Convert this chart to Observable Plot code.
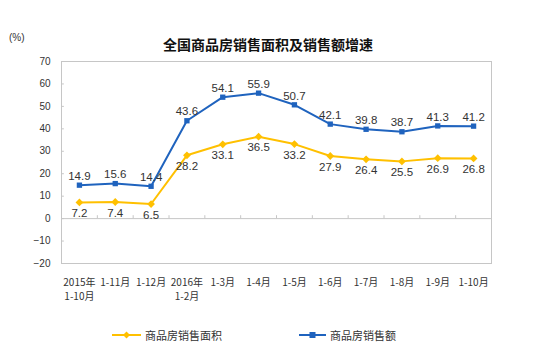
<!DOCTYPE html>
<html>
<head>
<meta charset="utf-8">
<script src="https://cdn.jsdelivr.net/npm/d3@7"></script>
<script src="https://cdn.jsdelivr.net/npm/@observablehq/plot@0.6"></script>
<style>
  html, body { margin: 0; padding: 0; background: #fff; }
  #wrap { position: relative; width: 550px; height: 357px; overflow: hidden;
          font-family: "Liberation Sans", "Noto Sans CJK SC", sans-serif; color: #333; }
  #title { position: absolute; left: 0; width: 536px; top: 35px; text-align: center;
           font-family: "Noto Sans CJK SC", sans-serif; font-size: 14px; font-weight: bold; color: #111; line-height: 18px; }
  #unit { position: absolute; left: 9px; top: 32px; font-size: 10px; color: #333; }
  #chart { position: absolute; left: 0; top: 55px; }
  .leg { position: absolute; top: 327px; font-family: "Noto Sans CJK SC", sans-serif; font-size: 11px; color: #333;
         display: flex; align-items: center; line-height: 16px; }
  .leg svg { margin-right: 3px; }
</style>
</head>
<body>
<div id="wrap">
  <div id="unit">(%)</div>
  <div id="title">全国商品房销售面积及销售额增速</div>
  <div id="chart"></div>
  <div class="leg" style="left:112px"><svg width="30" height="10"><line x1="0" y1="5" x2="29" y2="5" stroke="#FFC000" stroke-width="2"/><path d="M14.5,1.5L18,5L14.5,8.5L11,5Z" fill="#FFC000"/></svg>商品房销售面积</div>
  <div class="leg" style="left:299px"><svg width="28" height="10"><line x1="0" y1="5" x2="27" y2="5" stroke="#1F63BE" stroke-width="2"/><rect x="10.5" y="2" width="6" height="6" fill="#1F63BE"/></svg>商品房销售额</div>
</div>
<script>
const periods = ["2015年\n1-10月", "1-11月", "1-12月", "2016年\n1-2月", "1-3月", "1-4月", "1-5月", "1-6月", "1-7月", "1-8月", "1-9月", "1-10月"];
const areaGrowth = [7.2, 7.4, 6.5, 28.2, 33.1, 36.5, 33.2, 27.9, 26.4, 25.5, 26.9, 26.8];
const salesGrowth = [14.9, 15.6, 14.4, 43.6, 54.1, 55.9, 50.7, 42.1, 39.8, 38.7, 41.3, 41.2];
const yTicks = [-20, -10, 0, 10, 20, 30, 40, 50, 60, 70];

const blue = "#1F63BE";
const yellow = "#FFC000";
const data = periods.map((p, i) => ({i, p, area: areaGrowth[i], sales: salesGrowth[i]}));
const bounds = d3.range(periods.length - 1).map(i => i + 0.5);

const chart = Plot.plot({
  width: 550,
  height: 250,
  marginTop: 6,
  marginBottom: 42,
  marginLeft: 61,
  marginRight: 59,
  style: {fontFamily: "'Liberation Sans', 'Noto Sans CJK SC', sans-serif", color: "#333", background: "transparent"},
  x: {domain: [-0.5, periods.length - 0.5], axis: null},
  y: {domain: [-20, 70], axis: null},
  marks: [
    Plot.frame({stroke: "#c6c6c6"}),
    Plot.ruleY([0], {stroke: "#c6c6c6"}),
    Plot.ruleX(bounds, {x: d => d, y1: 0, y2: 1.3, stroke: "#c6c6c6"}),
    Plot.ruleY(yTicks, {y: d => d, x1: -0.5, x2: -0.42, stroke: "#c6c6c6"}),
    Plot.axisY({ticks: yTicks, tickSize: 0, tickPadding: 11, fontSize: 10, fill: "#333"}),
    Plot.text(data, {x: "i", y: -20, text: "p", dy: 12, lineAnchor: "top", lineHeight: 1.45, fontSize: 10, fill: "#333", fontFamily: "'Noto Sans CJK SC', sans-serif"}),
    Plot.line(data, {x: "i", y: "area", stroke: yellow, strokeWidth: 2}),
    Plot.dot(data, {x: "i", y: "area", symbol: "diamond2", r: 3.5, fill: yellow, stroke: null}),
    Plot.line(data, {x: "i", y: "sales", stroke: blue, strokeWidth: 2}),
    Plot.dot(data, {x: "i", y: "sales", symbol: "square", r: 3, fill: blue, stroke: null}),
    Plot.text(data, {x: "i", y: "sales", text: d => d.sales.toFixed(1), dy: -9, fontSize: 11.5, fill: "#333"}),
    Plot.text(data, {x: "i", y: "area", text: d => d.area.toFixed(1), dy: 11, fontSize: 11.5, fill: "#333"})
  ]
});
document.getElementById("chart").appendChild(chart);
</script>
</body>
</html>
